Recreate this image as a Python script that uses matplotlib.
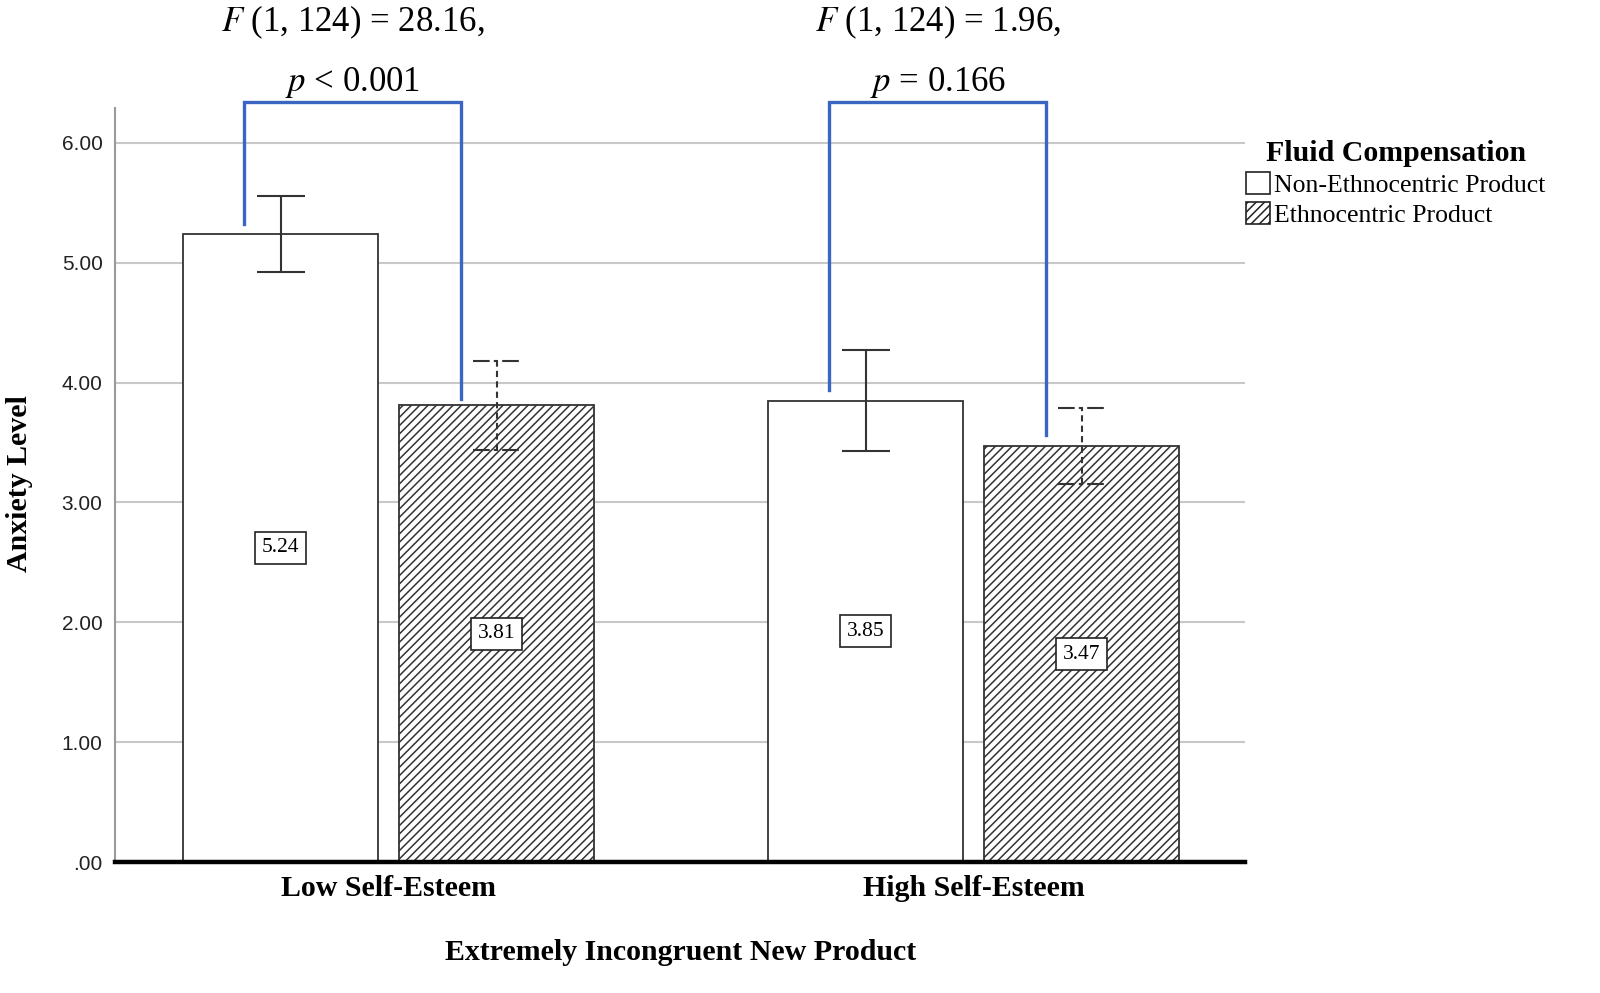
import matplotlib
matplotlib.use('Agg')
import matplotlib.pyplot as plt
from matplotlib.patches import Patch
import numpy as np

## -- data
groups = ['Low Self-Esteem', 'High Self-Esteem']
series = ['Non-Ethnocentric Product', 'Ethnocentric Product']
means_non = [5.24, 3.85]
means_eth = [3.81, 3.47]
err_non_lo = [4.92, 3.43]
err_non_hi = [5.56, 4.27]
err_eth_lo = [3.44, 3.15]
err_eth_hi = [4.18, 3.79]
## -- bracket legs (bottom end of each leg) and stats text
bracket_top = 6.34
bracket_leg_non = [5.32, 3.94]
bracket_leg_eth = [3.86, 3.56]
stat_f = ['(1, 124) = 28.16,', '(1, 124) = 1.96,']
stat_p = ['< 0.001', '= 0.166']
yticks = [0, 1, 2, 3, 4, 5, 6]
ytick_labels = ['.00', '1.00', '2.00', '3.00', '4.00', '5.00', '6.00']

SERIF = ['Liberation Serif', 'DejaVu Serif']
SANS = ['Liberation Sans', 'DejaVu Sans']
plt.rcParams['hatch.linewidth'] = 1.1
plt.rcParams['hatch.color'] = '#222222'

fig = plt.figure(figsize=(16, 9.93), dpi=100)
ax = fig.add_axes([0.0719, 0.1319, 0.7063, 0.7593])

x = np.arange(len(groups))
w = 0.3333
off = 0.1846

## -- gridlines
for t in yticks[1:]:
    ax.axhline(t, color='#c8c8c8', lw=1.5, zorder=0)

ax.bar(x - off, means_non, w, color='white', edgecolor='#333333', lw=1.3, zorder=2)
ax.bar(x + off, means_eth, w, color='white', edgecolor='#333333', lw=1.3,
       hatch='////', zorder=2)

## -- error bars
cap = 0.041
for i in range(len(groups)):
    xc = x[i] - off
    ax.vlines(xc, err_non_lo[i], err_non_hi[i], color='#333333', lw=1.5, zorder=3)
    ax.hlines([err_non_lo[i], err_non_hi[i]], xc - cap, xc + cap, color='#333333', lw=1.5, zorder=3)
    xc = x[i] + off
    ax.vlines(xc, err_eth_lo[i], err_eth_hi[i], color='#333333', lw=1.5,
              linestyles=(0, (3, 2)), zorder=3)
    ax.hlines([err_eth_lo[i], err_eth_hi[i]], xc - cap, xc + cap, color='#333333', lw=1.5,
              linestyles=(0, (8, 2, 2, 2)), zorder=3)

## -- value boxes
box = dict(boxstyle='square,pad=0.3', fc='white', ec='#222222', lw=1.2)
for i in range(len(groups)):
    ax.text(x[i] - off, means_non[i] / 2, f'{means_non[i]:.2f}', ha='center', va='center',
            family=SERIF, fontsize=15.5, bbox=box, zorder=4)
    ax.text(x[i] + off, means_eth[i] / 2, f'{means_eth[i]:.2f}', ha='center', va='center',
            family=SERIF, fontsize=15.5, bbox=box, zorder=4)

## -- significance brackets
blue = '#3b65c3'
for i in range(len(groups)):
    xl = x[i] - off - 0.062
    xr = x[i] + off - 0.061
    ax.plot([xl, xl, xr, xr], [bracket_leg_non[i], bracket_top, bracket_top, bracket_leg_eth[i]],
            color=blue, lw=2.4, clip_on=False, zorder=5, solid_joinstyle='miter')
    xm = (xl + xr) / 2
    ax.text(xm, 6.93, r'$\mathit{F}$ ' + stat_f[i], ha='center', va='baseline',
            family=SERIF, fontsize=25, math_fontfamily='stix', clip_on=False)
    ax.text(xm, 6.43, r'$\mathit{p}$ ' + stat_p[i], ha='center', va='baseline',
            family=SERIF, fontsize=25, math_fontfamily='stix', clip_on=False)

ax.set_xlim(-0.4675, 1.464)
ax.set_ylim(0, 6.29)
ax.set_yticks(yticks)
ax.set_yticklabels(ytick_labels, family=SANS, fontsize=15, color='#222222')
ax.tick_params(axis='y', length=0, pad=9)
ax.set_xticks(x)
ax.set_xticklabels(groups, family=SERIF, fontsize=21.5, fontweight='bold')
ax.tick_params(axis='x', length=0, pad=9)

for s in ['top', 'right']:
    ax.spines[s].set_visible(False)
ax.spines['left'].set_color('#9a9a9a')
ax.spines['left'].set_linewidth(1.5)
ax.spines['bottom'].set_color('black')
ax.spines['bottom'].set_linewidth(3.2)
ax.spines['bottom'].set_zorder(6)

fig.text(681 / 1600, 1 - 953 / 993, 'Extremely Incongruent New Product', ha='center', va='center',
         family=SERIF, fontsize=21.5, fontweight='bold')
fig.text(20 / 1600, 1 - 484 / 993, 'Anxiety Level', rotation=90, ha='center', va='center',
         family=SERIF, fontsize=21.5, fontweight='bold')

## -- legend
handles = [Patch(facecolor='white', edgecolor='#222222', lw=1.2),
           Patch(facecolor='white', edgecolor='#222222', lw=1.2, hatch='////')]
leg = fig.legend(handles, series, loc='upper left', bbox_to_anchor=(1228 / 1600, 1 - 122 / 993),
                 frameon=False, prop={'family': SERIF, 'size': 18.5},
                 title='Fluid Compensation', handlelength=0.95, handleheight=0.95,
                 handletextpad=0.15, labelspacing=0.2, borderpad=0.2)
leg.get_title().set_fontproperties({'family': SERIF, 'size': 21.5, 'weight': 'bold'})

fig.savefig('out.png', dpi=100, facecolor='white')
